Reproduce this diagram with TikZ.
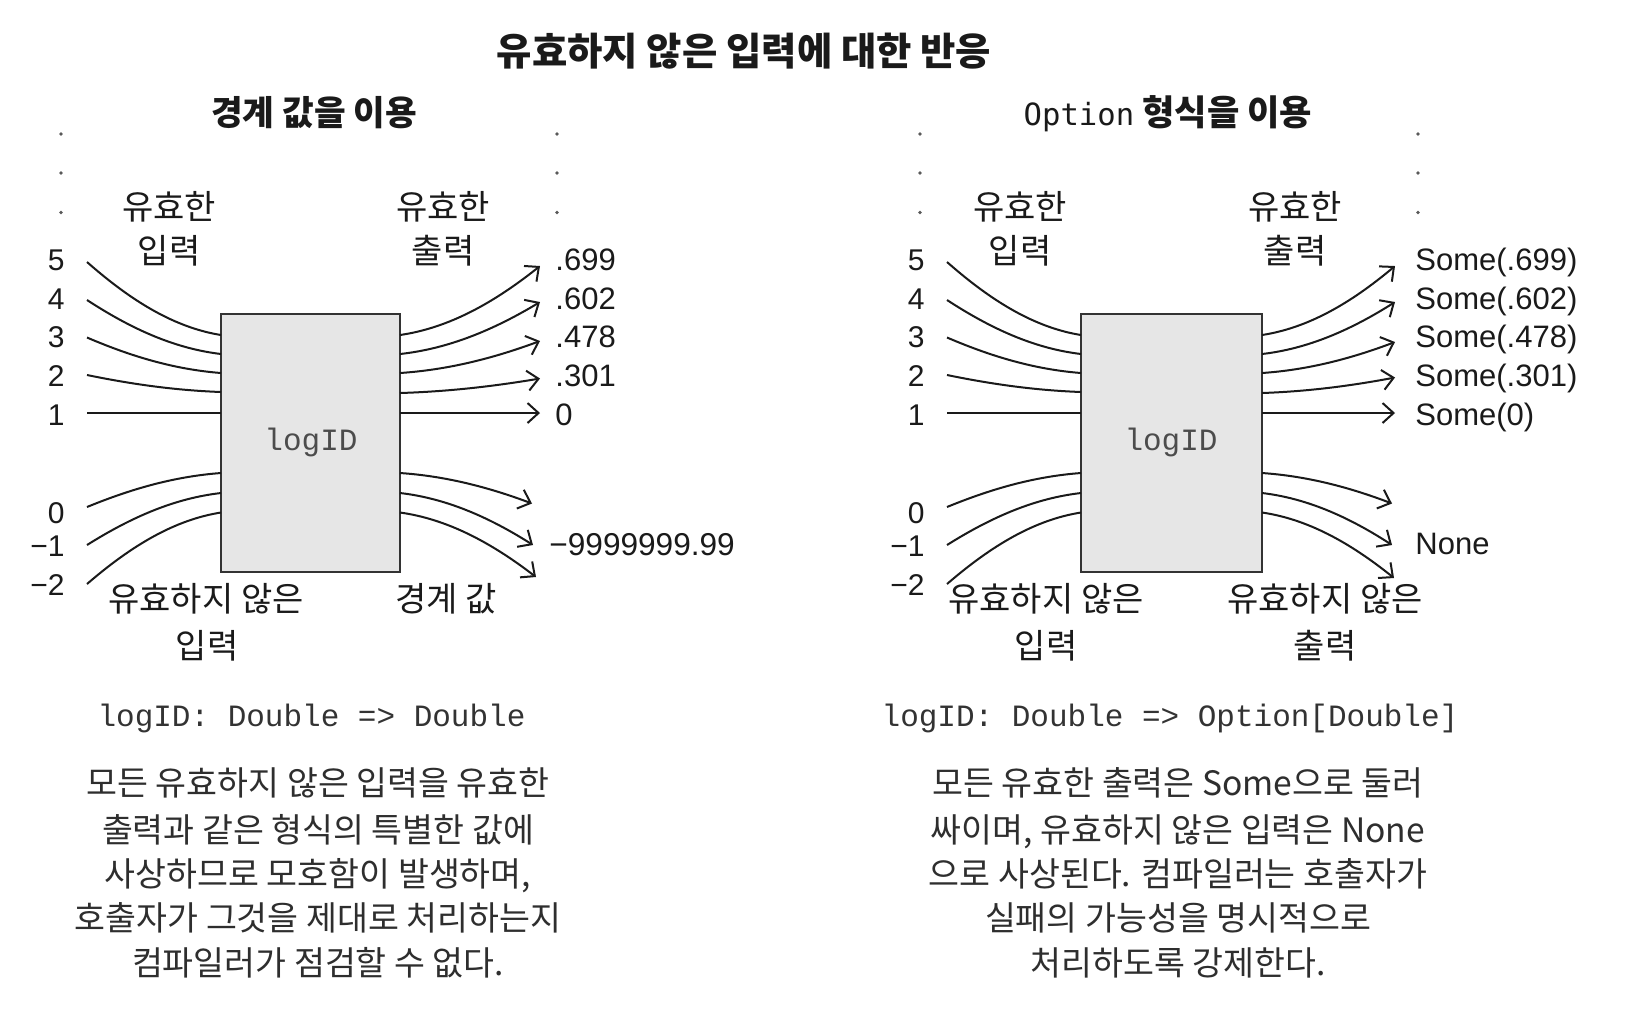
\documentclass[tikz,border=0pt]{standalone}
\usepackage{fontspec}
\setmainfont{Noto Sans CJK KR}
\newfontfamily\numf{Liberation Sans}
\newfontfamily\codef{Liberation Mono}
\newfontfamily\optf{DejaVu Sans Mono}
\usetikzlibrary{arrows.meta}
\definecolor{boxfill}{HTML}{E6E6E6}
\definecolor{ink}{HTML}{1A1A1A}
\definecolor{para}{HTML}{2E2E2E}
\begin{document}
\begin{tikzpicture}[x=0.5pt,y=-0.5pt,
  lab/.style={font=\fontsize{17}{20}\selectfont, inner sep=0, anchor=base, text=ink},
  ttl/.style={font=\bfseries\fontsize{19.2}{22}\selectfont, inner sep=0, anchor=base, text=ink},
  sub/.style={font=\bfseries\fontsize{17.2}{20}\selectfont, inner sep=0, anchor=base, text=ink},
  num/.style={font=\numf\fontsize{15}{18}\selectfont, inner sep=0, anchor=base east, text=ink},
  outl/.style={font=\numf\fontsize{15.5}{18}\selectfont, inner sep=0, anchor=base west, text=ink},
  code/.style={font=\codef\fontsize{15.5}{18}\selectfont, inner sep=0, anchor=base, text=black!80},
  parl/.style={font=\fontsize{16.8}{20}\selectfont, inner sep=0, anchor=base, text=para},
  curve/.style={line width=1pt, draw=ink},
  arr/.style={curve, -{Straight Barb[length=5.5pt,width=10pt]}},
  dotm/.style={circle, fill=black!65, inner sep=0, minimum size=1.8pt},
  fbox/.style={draw=black!80, line width=1.1pt, fill=boxfill, inner sep=0}
]
\fill[white] (0,0) rectangle (1625,1014);
\useasboundingbox (0,0) rectangle (1625,1014);

% title
\node[ttl] (title) at (744,65) {유효하지 않은 입력에 대한 반응};
\node[sub] (subL) at (314,125) {경계 값을 이용};
\node[sub, font=\bfseries\fontsize{17.6}{20}\selectfont] (subR) at (1168,125) {{\optf\mdseries\fontsize{15.3}{18}\selectfont Option} 형식을 이용};

% dots
\foreach \xx/\nm in {61/a,557/b,920/c,1418/d}
  \foreach \yy/\k in {134/1,173/2,212.5/3}
    \node[dotm] (dot\nm\k) at (\xx,\yy) {};

% boxes
\node[fbox, minimum width=89.5pt, minimum height=129pt] (boxL) at (310.5,443) {};
\node[fbox, minimum width=90.5pt, minimum height=129pt] (boxR) at (1171.5,443) {};
\node[code, text=black!70] (logL) at (311,450) {logID};
\node[code, text=black!70] (logR) at (1171,450) {logID};

% left side labels
\node[lab] (vinL1) at (169,219) {유효한};
\node[lab] (vinL2) at (169,263) {입력};
\node[lab] (voutL1) at (443,219) {유효한};
\node[lab] (voutL2) at (443,263) {출력};
\node[lab] (iinL1) at (206,611) {유효하지 않은};
\node[lab] (iinL2) at (207,658) {입력};
\node[lab] (bndL) at (446,611) {경계 값};

% right side labels
\node[lab] (vinR1) at (1020,219) {유효한};
\node[lab] (vinR2) at (1020,263) {입력};
\node[lab] (voutR1) at (1295,219) {유효한};
\node[lab] (voutR2) at (1295,263) {출력};
\node[lab] (iinR1) at (1046,611) {유효하지 않은};
\node[lab] (iinR2) at (1046,658) {입력};
\node[lab] (ioutR1) at (1325,611) {유효하지 않은};
\node[lab] (ioutR2) at (1325,658) {출력};

% input numbers
\foreach \t/\yy/\k in {5/259/a,4/298/b,3/336/c,2/375/d,1/414/e,0/512/f,−1/545/g,−2/584/h} {
  \node[num] (nL\k) at (65,\yy+11) {\t};
  \node[num] (nR\k) at (925,\yy+11) {\t};
}

% output labels
\foreach \t/\s/\yy/\k in {.699/Some(.699)/259/a,.602/Some(.602)/298/b,.478/Some(.478)/336/c,.301/Some(.301)/375/d,0/Some(0)/414/e} {
  \node[outl] (oL\k) at (555,\yy+11) {\t};
  \node[outl] (oR\k) at (1415,\yy+11) {\s};
}
\node[outl, font=\numf\fontsize{15.8}{18}\selectfont] (oLg) at (549,555) {−9999999.99};
\node[outl] (oRg) at (1415,554) {None};

% input curves
\foreach \k/\ya/\yb in {a/262/335,b/300/354,c/337.5/373,d/375/392,e/413/413,f/507/473,g/545/493,h/584/512.5} {
  \coordinate (LA\k) at (87,\ya);
  \coordinate (LB\k) at (221,\yb);
  \draw[curve] (LA\k) .. controls ({87+0.34*134},{\ya+0.55*(\yb-\ya)}) and ({221-0.34*134},{\yb-0.1*(\yb-\ya)}) .. (LB\k);
  \coordinate (RA\k) at (947,\ya);
  \coordinate (RB\k) at (1081,\yb);
  \draw[curve] (RA\k) .. controls ({947+0.34*134},{\ya+0.55*(\yb-\ya)}) and ({1081-0.34*134},{\yb-0.1*(\yb-\ya)}) .. (RB\k);
}

% output curves
\foreach \k/\ya/\xl/\yl/\xr/\yr in {a/335/540/266/1395/266,b/354/540/302/1395/302,c/373/540/341/1395/342,d/393/540/378.5/1395/377.5,e/413/540/413/1395/413,f/473/532/503.5/1392/503.5,g/493/533/545/1392/545,h/512.5/536/577/1394/578} {
  \coordinate (LC\k) at (400,\ya);
  \coordinate (LD\k) at (\xl,\yl);
  \draw[arr] (LC\k) .. controls ({400+0.34*(\xl-400)},{\ya+0.1*(\yl-\ya)}) and ({\xl-0.34*(\xl-400)},{\yl-0.55*(\yl-\ya)}) .. (LD\k);
  \coordinate (RC\k) at (1262,\ya);
  \coordinate (RD\k) at (\xr,\yr);
  \draw[arr] (RC\k) .. controls ({1262+0.34*(\xr-1262)},{\ya+0.1*(\yr-\ya)}) and ({\xr-0.34*(\xr-1262)},{\yr-0.55*(\yr-\ya)}) .. (RD\k);
}

% signatures
\node[code] (sigL) at (311.5,726) {logID: Double => Double};
\node[code] (sigR) at (1170,726) {logID: Double => Option[Double]};

% paragraphs
\foreach \t/\yy/\k in {모든 유효하지 않은 입력을 유효한/782.5/1, 출력과 같은 형식의 특별한 값에/829/2, {사상하므로 모호함이 발생하며,}/873/3, 호출자가 그것을 제대로 처리하는지/917/4, 컴파일러가 점검할 수 없다./962/5}
  \node[parl] (pL\k) at (318,\yy+13) {\t};
\foreach \t/\yy/\k in {모든 유효한 출력은 Some으로 둘러/782.5/1, {싸이며, 유효하지 않은 입력은 None}/829/2, 으로 사상된다. 컴파일러는 호출자가/873/3, 실패의 가능성을 명시적으로/917/4, 처리하도록 강제한다./962/5}
  \node[parl] (pR\k) at (1178,\yy+13) {\t};
\end{tikzpicture}
\end{document}
